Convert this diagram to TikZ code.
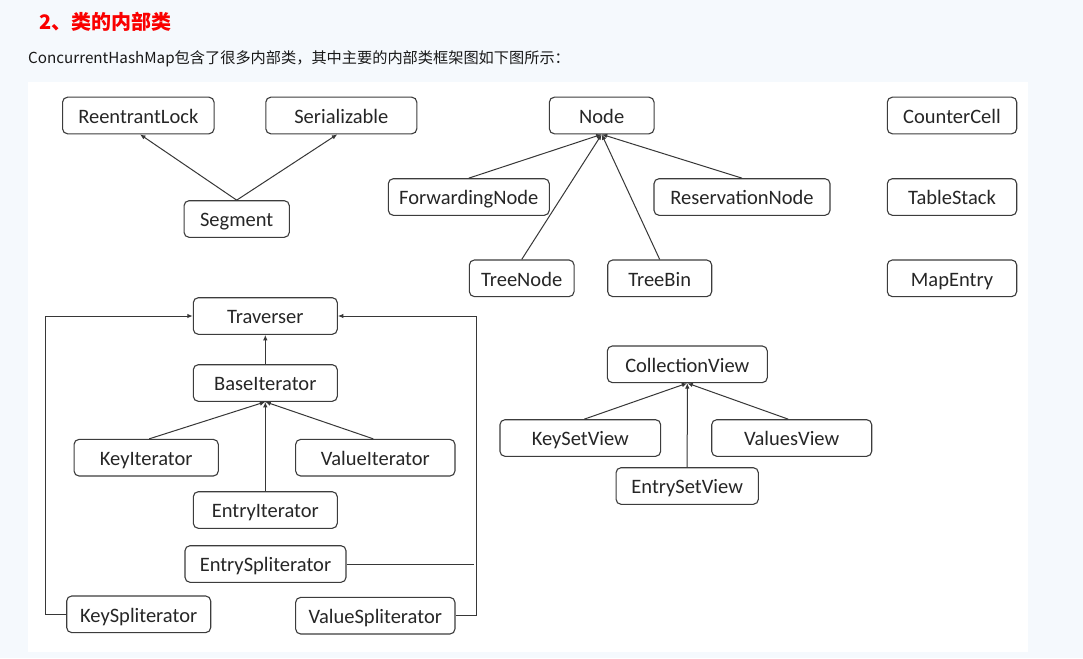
\documentclass[tikz,border=0pt]{standalone}
\usepackage{fontspec}
\setmainfont{Carlito}
\newfontfamily\cjk{Noto Sans CJK SC}
\usetikzlibrary{arrows.meta}
\definecolor{pagebg}{RGB}{245,249,253}
\definecolor{boxline}{RGB}{60,60,60}
\definecolor{conn}{RGB}{55,55,55}
\definecolor{titlered}{RGB}{250,0,0}
\tikzset{
  cls/.style={draw=boxline, line width=1.1pt, rounded corners=5pt, fill=white,
    minimum height=36.6pt, inner sep=0pt, text height=15.8pt, text depth=0pt,
    font=\fontsize{20.5}{23}\selectfont, text=black!85},
  arr/.style={draw=conn, line width=1pt, -{Latex[length=5.5pt,width=4.5pt]}},
  ln/.style={draw=conn, line width=1pt},
}
\begin{document}
\begin{tikzpicture}[x=1pt,y=-1pt]
\useasboundingbox (0,0) rectangle (1083,658);
\fill[pagebg] (0,0) rectangle (1083,658);
\fill[white] (28,82) rectangle (1028,651.5);
\node[anchor=west, inner sep=0pt, text=titlered, font=\cjk\bfseries\fontsize{20}{23}\selectfont] (title) at (39,22) {2、类的内部类};
\node[anchor=west, inner sep=0pt, text=black!90, font=\cjk\fontsize{15.2}{18}\selectfont] (sub) at (28,58.5) {ConcurrentHashMap包含了很多内部类，其中主要的内部类框架图如下图所示：};
% top-left group
\node[cls, minimum width=151.5pt] (rl) at (138.3,115.5) {ReentrantLock};
\node[cls, minimum width=151pt] (ser) at (341.3,115.5) {Serializable};
\node[cls, minimum width=105.3pt] (seg) at (236.7,219) {Segment};
% Node group
\node[cls, minimum width=104.7pt] (nd) at (601.7,115.5) {Node};
\node[cls, minimum width=161pt] (fwd) at (468.8,197) {ForwardingNode};
\node[cls, minimum width=176pt] (res) at (742,197) {ReservationNode};
\node[cls, minimum width=104.7pt] (tn) at (521.7,278.3) {TreeNode};
\node[cls, minimum width=104pt] (tb) at (659.7,278.3) {TreeBin};
% standalone
\node[cls, minimum width=129.4pt] (cc) at (952,115.5) {CounterCell};
\node[cls, minimum width=129.4pt] (ts) at (952,197) {TableStack};
\node[cls, minimum width=129.4pt] (me) at (952,278.3) {MapEntry};
% Traverser group
\node[cls, minimum width=144pt] (tr) at (265.3,316) {Traverser};
\node[cls, minimum width=144pt] (bi) at (265.3,383) {BaseIterator};
\node[cls, minimum width=144.3pt] (ki) at (146.2,457.7) {KeyIterator};
\node[cls, minimum width=159.3pt] (vi) at (375.3,457.7) {ValueIterator};
\node[cls, minimum width=144pt] (ei) at (265.3,510) {EntryIterator};
\node[cls, minimum width=161pt] (es) at (265.5,564) {EntrySpliterator};
\node[cls, minimum width=144pt] (ks) at (138.7,614.3) {KeySpliterator};
\node[cls, minimum width=159.3pt] (vs) at (375.3,615.7) {ValueSpliterator};
% CollectionView group
\node[cls, minimum width=160pt] (cv) at (687.3,364.3) {CollectionView};
\node[cls, minimum width=160.7pt] (ksv) at (580.3,438) {KeySetView};
\node[cls, minimum width=160pt] (vv) at (791.7,438) {ValuesView};
\node[cls, minimum width=142.3pt] (esv) at (687.2,486) {EntrySetView};
\coordinate (esend) at (473.5,564);
% connectors
\draw[arr] (seg.north) -- ([xshift=1.7pt]rl.south);
\draw[arr] (seg.north) -- ([xshift=-4pt]ser.south);
\draw[arr] (fwd.north) -- (nd.south);
\draw[arr] (tn.north) -- (nd.south);
\draw[arr] (tb.north) -- (nd.south);
\draw[arr] (res.north) -- (nd.south);
\draw[arr] (bi.north) -- (tr.south);
\draw[arr] ([xshift=3pt]ki.north) -- (bi.south);
\draw[arr] ([xshift=-2pt]vi.north) -- (bi.south);
\draw[arr] (ei.north) -- (bi.south);
\draw[arr] (ks.west) -- ++(-21,0) |- (tr.west);
\draw[arr] (vs.east) -- ++(20.5,0) |- (tr.east);
\draw[ln] (es.east) -- (esend);
\draw[arr] ([xshift=4pt]ksv.north) -- (cv.south);
\draw[arr] ([xshift=-3.5pt]vv.north) -- (cv.south);
\draw[arr] (esv.north) -- (cv.south);
\end{tikzpicture}
\end{document}
